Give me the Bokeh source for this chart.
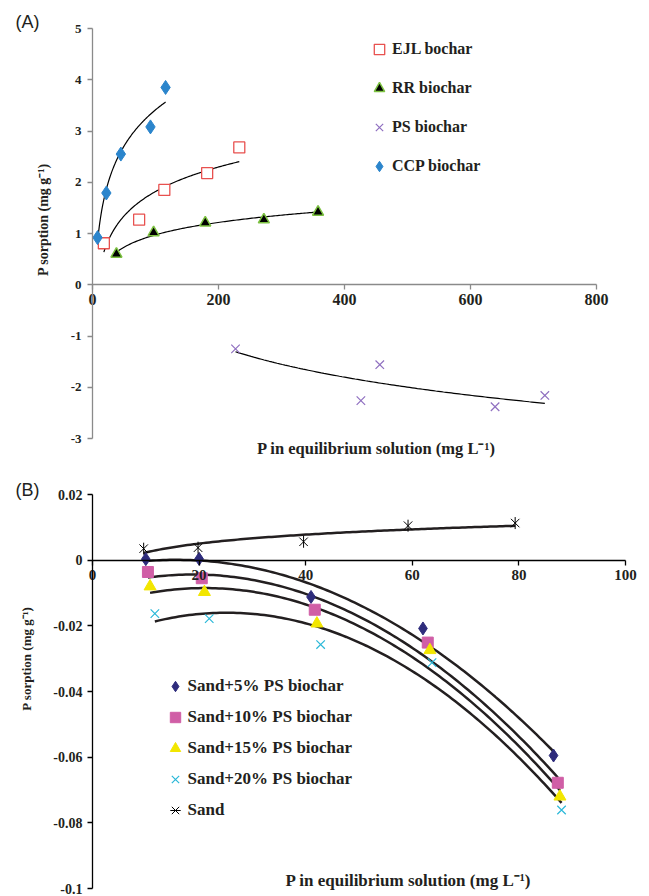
import numpy as np
from bokeh.plotting import figure
from bokeh.layouts import column
from bokeh.models import Range1d, Legend, LegendItem, Label, FixedTicker
from bokeh.embed import file_html
from bokeh.resources import INLINE

# ---------------- Panel A data ----------------
ejl_x = [18, 74, 114, 182, 233]
ejl_y = [0.81, 1.27, 1.85, 2.18, 2.68]
rr_x = [38, 97, 179, 272, 358]
rr_y = [0.60, 1.02, 1.21, 1.27, 1.42]
ps_x = [227, 426, 456, 639, 718]
ps_y = [-1.25, -2.26, -1.56, -2.38, -2.16]
ccp_x = [8, 22, 45, 92, 116]
ccp_y = [0.92, 1.79, 2.55, 3.08, 3.85]
a_xticks = [0, 200, 400, 600, 800]
a_yticks = [-3, -2, -1, 0, 1, 2, 3, 4, 5]
a_ylabels = ["-3", "-2", "-1", "0", "1", "2", "3", "4", "5"]

# ---------------- Panel B data ----------------
s5_x = [10, 20, 41, 62, 86.5]
s5_y = [0.0003, 0.0004, -0.0112, -0.0208, -0.0595]
s10_x = [10.4, 20.5, 41.7, 62.9, 87.3]
s10_y = [-0.0036, -0.0055, -0.0151, -0.0251, -0.0678]
s15_x = [10.8, 21, 42.1, 63.3, 87.7]
s15_y = [-0.0080, -0.0097, -0.0193, -0.0274, -0.0720]
s20_x = [11.7, 21.9, 42.8, 63.7, 88]
s20_y = [-0.0163, -0.0178, -0.0257, -0.0312, -0.0761]
sand_x = [9.6, 19.8, 39.6, 59.2, 79.3]
sand_y = [0.0035, 0.0038, 0.0056, 0.0105, 0.0113]
b_xticks = [0, 20, 40, 60, 80, 100]
b_yticks = [-0.1, -0.08, -0.06, -0.04, -0.02, 0, 0.02]
b_ylabels = ["-0.1", "-0.08", "-0.06", "-0.04", "-0.02", "0", "0.02"]

SERIF = "Liberation Serif"
TXT = "#231f20"


def log_fit(x, y, n=120):
    x = np.asarray(x, float)
    y = np.asarray(y, float)
    a, b = np.polyfit(np.log(x), y, 1)
    xs = np.linspace(x.min(), x.max(), n)
    return xs, a * np.log(xs) + b


def poly_fit(x, y, n=120):
    x = np.asarray(x, float)
    y = np.asarray(y, float)
    c = np.polyfit(x, y, 2)
    xs = np.linspace(x.min(), x.max(), n)
    return xs, np.polyval(c, xs)


def style_axes(p, axis_color):
    for ax in (p.xaxis[0], p.yaxis[0]):
        ax.axis_line_color = axis_color
        ax.axis_line_width = 1.3
        ax.major_tick_line_color = axis_color
        ax.major_tick_line_width = 1.3
        ax.major_tick_in = 0
        ax.major_tick_out = 5
        ax.minor_tick_line_color = None
        ax.major_label_text_font = SERIF
        ax.major_label_text_font_style = "bold"
        ax.major_label_text_color = TXT
    p.grid.visible = False
    p.outline_line_color = None


def label(p, x, y, text, size, angle=0.0, align="center", font=SERIF, style="bold"):
    p.add_layout(Label(x=x, y=y, text=text, angle=angle, text_align=align,
                       text_baseline="middle", text_font=font, text_font_style=style,
                       text_font_size=size, text_color=TXT))


def legend(items, loc, spacing, size):
    return Legend(items=items, location=loc, padding=0, margin=0, spacing=spacing,
                  glyph_width=26, glyph_height=26, label_height=26, label_standoff=-4,
                  border_line_color=None, background_fill_alpha=0,
                  label_text_font=SERIF, label_text_font_style="bold",
                  label_text_font_size=size, label_text_color=TXT)


# ================= Panel A =================
# plot frame covers the whole canvas; axes are placed at the origin
A_W, A_H = 649, 470
pA = figure(width=A_W, height=A_H,
            x_range=Range1d(-92 / 0.63, (A_W - 92) / 0.63),
            y_range=Range1d(5 - (A_H - 28) / 51.25, 5 + 28 / 51.25),
            output_backend="svg", toolbar_location=None, min_border=0)
style_axes(pA, "#8a8a8a")
pA.xaxis.fixed_location = 0
pA.yaxis.fixed_location = 0
pA.xaxis.bounds = (0, 800)
pA.yaxis.bounds = (-3, 5)
pA.xaxis.ticker = FixedTicker(ticks=a_xticks)
pA.yaxis.ticker = FixedTicker(ticks=a_yticks)
pA.yaxis.major_label_overrides = {t: l for t, l in zip(a_yticks, a_ylabels)}
pA.xaxis.major_label_text_font_size = "16px"
pA.yaxis.major_label_text_font_size = "13px"
pA.xaxis.major_label_standoff = 4
pA.yaxis.major_label_standoff = 6

for xs_, ys_ in (log_fit(ccp_x, ccp_y), log_fit(ejl_x, ejl_y), log_fit(rr_x, rr_y), log_fit(ps_x, ps_y)):
    pA.line(xs_, ys_, line_color="black", line_width=1.2)

r_ejl = pA.scatter(ejl_x, ejl_y, marker="square", size=11, fill_color="white",
                   line_color="#e8514f", line_width=1.3)
r_rr = pA.scatter(rr_x, rr_y, marker="triangle", size=11, fill_color="black",
                  line_color="#7dc242", line_width=1.5)
r_ps = pA.scatter(ps_x, ps_y, marker="x", size=12, line_color="#8f6fc0", line_width=1.2)
r_ccp = pA.scatter(ccp_x, ccp_y, marker="diamond", size=14, fill_color="#2b85cc",
                   line_color="#2b85cc")

pA.add_layout(legend([LegendItem(label="EJL bochar", renderers=[r_ejl]),
                      LegendItem(label="RR biochar", renderers=[r_rr]),
                      LegendItem(label="PS biochar", renderers=[r_ps]),
                      LegendItem(label="CCP biochar", renderers=[r_ccp])],
                     (366, A_H - 179), 13, "16px"))

label(pA, -122.2, 5.127, "(A)", "18px", align="left", font="Liberation Sans", style="normal")
label(pA, -77.8, 1.273, "P sorption (mg g\u207b\u00b9)", "14px", angle=np.pi / 2)
label(pA, 454, -3.195, "P in  equilibrium solution (mg L\u207b\u00b9)", "16.5px")

# ================= Panel B =================
B_W, B_H = 649, 426
B_SY = 394 / 0.12
pB = figure(width=B_W, height=B_H,
            x_range=Range1d(-92 / 5.33, (B_W - 92) / 5.33),
            y_range=Range1d(0.02 - (B_H - 24) / B_SY, 0.02 + 24 / B_SY),
            output_backend="svg", toolbar_location=None, min_border=0)
style_axes(pB, "black")
pB.xaxis.fixed_location = 0
pB.yaxis.fixed_location = 0
pB.xaxis.bounds = (0, 100)
pB.yaxis.bounds = (-0.1, 0.02)
pB.xaxis.ticker = FixedTicker(ticks=b_xticks)
pB.yaxis.ticker = FixedTicker(ticks=b_yticks)
pB.yaxis.major_label_overrides = {t: l for t, l in zip(b_yticks, b_ylabels)}
pB.xaxis.major_label_text_font_size = "15px"
pB.yaxis.major_label_text_font_size = "14px"
pB.xaxis.major_label_standoff = 5
pB.yaxis.major_label_standoff = 5

for xs_, ys_ in (poly_fit(s5_x, s5_y), poly_fit(s10_x, s10_y), poly_fit(s15_x, s15_y),
                 poly_fit(s20_x, s20_y), log_fit(sand_x, sand_y)):
    pB.line(xs_, ys_, line_color=TXT, line_width=2.5)

r5 = pB.scatter(s5_x, s5_y, marker="diamond", size=13, fill_color="#2e2c7c", line_color="#2e2c7c")
r10 = pB.scatter(s10_x, s10_y, marker="square", size=11, fill_color="#d05ea6", line_color="#d05ea6")
r15 = pB.scatter(s15_x, s15_y, marker="triangle", size=12, fill_color="#f2e600", line_color="#f2e600")
r20 = pB.scatter(s20_x, s20_y, marker="x", size=12, line_color="#2ab8d8", line_width=1.2)
rs1 = pB.scatter(sand_x, sand_y, marker="x", size=12, line_color="black", line_width=1.0)
rs2 = pB.scatter(sand_x, sand_y, marker="dash", angle=np.pi / 2, size=12, line_color="black",
                 line_width=1.0)

pB.add_layout(legend([LegendItem(label="Sand+5% PS biochar", renderers=[r5]),
                      LegendItem(label="Sand+10% PS biochar", renderers=[r10]),
                      LegendItem(label="Sand+15% PS biochar", renderers=[r15]),
                      LegendItem(label="Sand+20% PS biochar", renderers=[r20]),
                      LegendItem(label="Sand", renderers=[rs1, rs2])],
                     (161.5, B_H - 353), 5, "17px"))

label(pB, -14.45, 0.02122, "(B)", "18px", align="left", font="Liberation Sans", style="normal")
label(pB, -12.38, -0.02995, "P sorption (mg g\u207b\u00b9)", "13px", angle=np.pi / 2)
label(pB, 59.29, -0.09756, "P in equilibrium solution (mg L\u207b\u00b9)", "17px")

layout = column(pA, pB, spacing=0)
open("out.html", "w").write(file_html(layout, INLINE))
